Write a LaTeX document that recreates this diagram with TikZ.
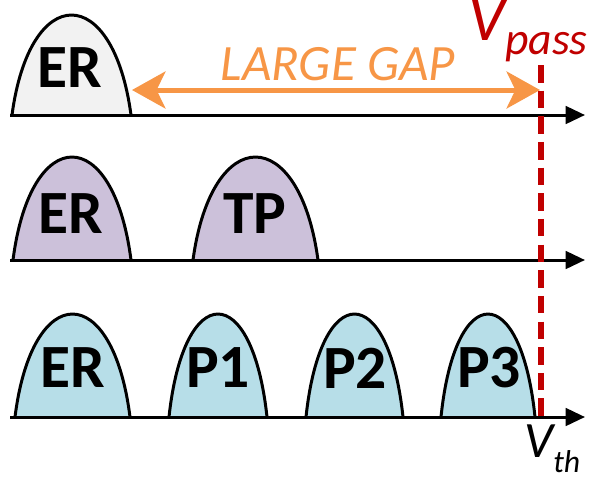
\documentclass[tikz,border=0pt]{standalone}
\usepackage{fontspec}
\setmainfont{Carlito}
\usetikzlibrary{arrows.meta}
\definecolor{erGray}{HTML}{F2F2F2}
\definecolor{tpPurple}{HTML}{CCC1DA}
\definecolor{pBlue}{HTML}{B7DEE8}
\definecolor{gapOrange}{HTML}{F79646}
\definecolor{passRed}{HTML}{C00000}
% bump: left x, right x, base y, top y, fill colour
\newcommand{\vtbump}[5]{%
  \filldraw[fill=#5, line width=1.7pt]
    (#1,#3) .. controls ({#1+0.15*(#2-#1)},{#3-1.333*(#3-#4)})
    and ({#2-0.15*(#2-#1)},{#3-1.333*(#3-#4)}) .. (#2,#3);}

\begin{document}
\begin{tikzpicture}[x=0.02cm, y=-0.02cm,
  lbl/.style={font=\fontsize{35}{40}\selectfont\bfseries},
  axis/.style={line width=1.7pt, -{Triangle[length=11pt,width=10pt]}}]
\useasboundingbox (0,0) rectangle (598,478);

% threshold distributions
\vtbump{12}{131}{115}{15}{erGray}
\vtbump{13}{131}{260}{157}{tpPurple}
\vtbump{193}{318}{260}{157}{tpPurple}
\vtbump{15}{130}{417}{314}{pBlue}
\vtbump{169}{267}{417}{314}{pBlue}
\vtbump{306}{403}{417}{314}{pBlue}
\vtbump{441}{535}{417}{314}{pBlue}

\node[lbl] (er1) at (70,68) {ER};
\node[lbl] (er2) at (71,214) {ER};
\node[lbl] (tp) at (255,214) {TP};
\node[lbl] (er3) at (73,368) {ER};
\node[lbl] (p1) at (218,368) {P1};
\node[lbl] (p2) at (355,368) {P2};
\node[lbl] (p3) at (489,368) {P3};

% axes
\coordinate (a1) at (10,115); \coordinate (b1) at (585,115);
\coordinate (a2) at (10,260); \coordinate (b2) at (585,260);
\coordinate (a3) at (10,417); \coordinate (b3) at (585,417);
\draw[axis] (a1) -- (b1);
\draw[axis] (a2) -- (b2);
\draw[axis] (a3) -- (b3);

% gap arrow
\coordinate (gapL) at (132,90);
\coordinate (gapR) at (540,90);
\draw[gapOrange, line width=2.85pt,
  {Stealth[length=19pt,width=21pt,inset=5pt]}-{Stealth[length=19pt,width=21pt,inset=5pt]}]
  (gapL) -- (gapR);
\node[gapOrange, anchor=base, font=\fontsize{29}{34}\selectfont\itshape]
  (gap) at (338,80) {LARGE GAP};

% pass voltage
\coordinate (vtop) at (541,65);
\coordinate (vbot) at (541,417);
\draw[passRed, line width=3.4pt, dash pattern=on 10pt off 4.6pt] (vtop) -- (vbot);
\node[passRed, anchor=base west, inner sep=0pt, font=\fontsize{37}{42}\selectfont\itshape]
  (vpass) at (468,40) {V\raisebox{-8.5pt}{\fontsize{26}{30}\selectfont pass}};
\node[anchor=base west, inner sep=0pt, font=\fontsize{29}{34}\selectfont\itshape]
  (vth) at (524,457) {V\raisebox{-9pt}{\fontsize{18}{22}\selectfont th}};
\end{tikzpicture}
\end{document}
